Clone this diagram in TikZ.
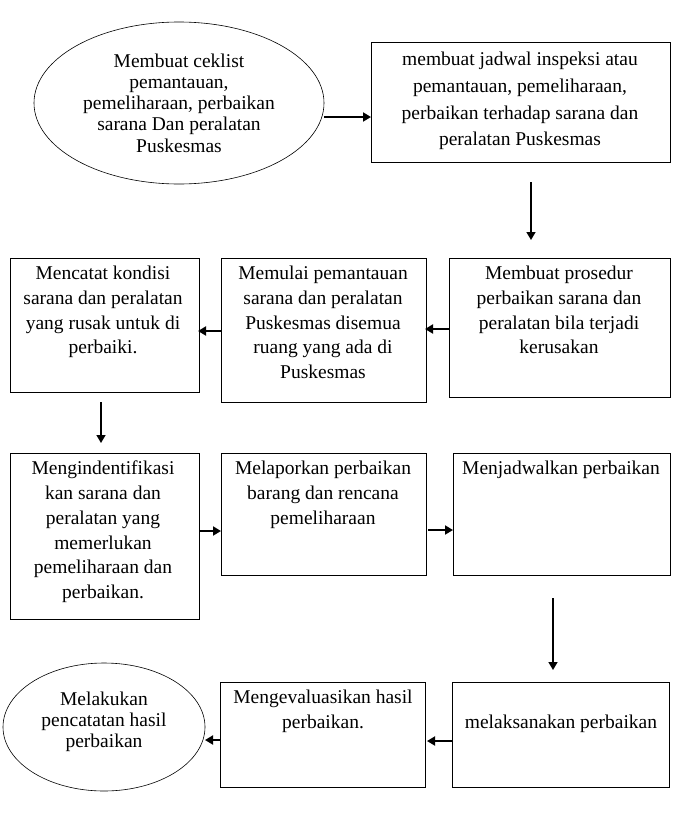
\documentclass[tikz,border=0pt]{standalone}
\usepackage{fontspec}
\setmainfont{Liberation Serif}
\usetikzlibrary{arrows.meta,shapes.geometric}
\begin{document}
\begin{tikzpicture}[x=1pt,y=-1pt,
  box/.style={draw, line width=0.9pt, rectangle, inner sep=0pt, outer sep=0pt, anchor=north west},
  oval/.style={draw, line width=0.6pt, ellipse, inner sep=0pt, outer sep=0pt},
  txt/.style={align=center, inner sep=0pt, anchor=north, font=\fontsize{19.5}{24.7}\selectfont},
  txtwide/.style={txt, font=\fontsize{19.5}{26.7}\selectfont},
  txtoval/.style={align=center, inner sep=0pt, font=\fontsize{19.5}{21.3}\selectfont},
  arr/.style={-{Triangle[length=8pt,width=9pt]}, line width=1.8pt}]
\useasboundingbox (0,0) rectangle (688,814);
% shapes
\node[oval, minimum width=290pt, minimum height=162pt] (e1) at (179,103) {};
\node[box, minimum width=299pt, minimum height=120pt] (a) at (371,42) {};
\node[box, minimum width=221pt, minimum height=139pt] (b) at (449,258) {};
\node[box, minimum width=205pt, minimum height=144pt] (c) at (221,258) {};
\node[box, minimum width=189pt, minimum height=134pt] (d) at (10,258) {};
\node[box, minimum width=189pt, minimum height=166pt] (e) at (10,453) {};
\node[box, minimum width=205pt, minimum height=122pt] (f) at (221,453) {};
\node[box, minimum width=217pt, minimum height=122pt] (g) at (453,453) {};
\node[box, minimum width=217pt, minimum height=105pt] (j) at (452,682) {};
\node[box, minimum width=205pt, minimum height=105pt] (i) at (220,682) {};
\node[oval, minimum width=202pt, minimum height=128pt] (h) at (104,727) {};
% texts
\node[txtoval] (te1) at (179,103) {Membuat ceklist\\pemantauan,\\pemeliharaan, perbaikan\\sarana Dan peralatan\\Puskesmas};
\node[txtwide] (ta) at (520,52) {membuat jadwal inspeksi atau\\pemantauan, pemeliharaan,\\perbaikan terhadap sarana dan\\peralatan Puskesmas};
\node[txt] (tb) at (559,266) {Membuat prosedur\\perbaikan sarana dan\\peralatan bila terjadi\\kerusakan};
\node[txt] (tc) at (323,266) {Memulai pemantauan\\sarana dan peralatan\\Puskesmas disemua\\ruang yang ada di\\Puskesmas};
\node[txt] (td) at (103,266) {Mencatat kondisi\\sarana dan peralatan\\yang rusak untuk di\\perbaiki.};
\node[txt] (tee) at (103,461) {Mengindentifikasi\\kan sarana dan\\peralatan yang\\memerlukan\\pemeliharaan dan\\perbaikan.};
\node[txt] (tf) at (323,461) {Melaporkan perbaikan\\barang dan rencana\\pemeliharaan};
\node[txt] (tg) at (561,461) {Menjadwalkan perbaikan};
\node[txt] (tj) at (561,715) {melaksanakan perbaikan};
\node[txt] (ti) at (323,690) {Mengevaluasikan hasil\\perbaikan.};
\node[txtoval] (th) at (104,722) {Melakukan\\pencatatan hasil\\perbaikan};
% connectors
\coordinate (a1) at (531,182);
\coordinate (a2) at (531,240);
\coordinate (d1) at (101,402);
\coordinate (d2) at (101,443);
\coordinate (g1) at (553,598);
\coordinate (g2) at (553,670);
\draw[arr] (e1.east |- 0,117) -- (a.west |- 0,117);
\draw[arr, line width=1.5pt] (a1) -- (a2);
\draw[arr] (b.west |- 0,329) -- ([xshift=-1pt]c.east |- 0,329);
\draw[arr] (c.west |- 0,331) -- ([xshift=-1pt]d.east |- 0,331);
\draw[arr, line width=1.5pt] (d1) -- (d2);
\draw[arr] (e.east |- 0,531) -- (f.west |- 0,531);
\draw[arr] ([xshift=2pt]f.east |- 0,530) -- (g.west |- 0,530);
\draw[arr, line width=1.5pt] (g1) -- (g2);
\draw[arr] ([xshift=1pt]j.west |- 0,741) -- ([xshift=2pt]i.east |- 0,741);
\draw[arr] (i.west |- 0,740) -- (h.east |- 0,740);
\end{tikzpicture}
\end{document}
